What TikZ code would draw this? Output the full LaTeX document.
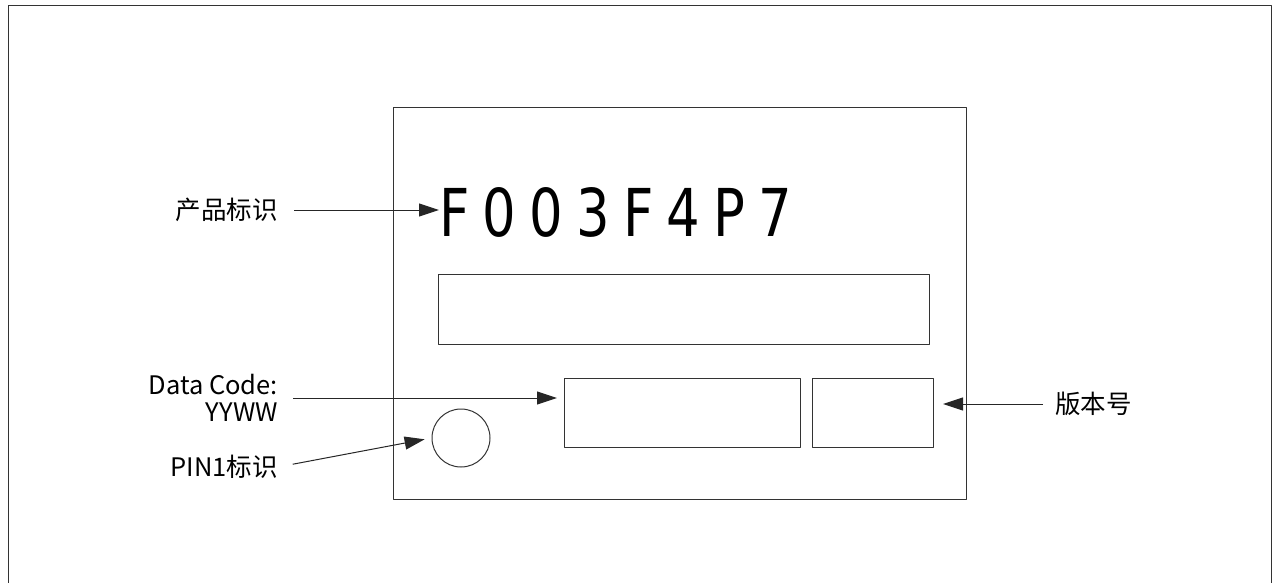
\documentclass[tikz,border=0pt]{standalone}
\usepackage{fontspec}
\setmainfont{Noto Sans CJK SC}
\newfontfamily\segfont[LetterSpace=25]{DejaVu Sans}
\usetikzlibrary{arrows.meta}
\tikzset{
  part/.style={draw=black!80, line width=1pt},
  lbl/.style={font=\fontsize{25.5}{27}\selectfont, inner sep=0pt},
  arr/.style={draw=black!85, line width=1pt, -{Triangle[length=20pt,width=13pt]}}
}
\begin{document}
\begin{tikzpicture}[x=1pt, y=-1pt, line join=round]
\useasboundingbox (0,0) rectangle (1277,582);
% khung ngoai
\draw[part] (8,590)--(8,5)--(1271,5)--(1271,590);
% chip
\draw[part] (393,107) rectangle (966,499);
\node[part, minimum width=491pt, minimum height=70pt, anchor=north west] (mark) at (438,274) {};
\node[part, minimum width=236pt, minimum height=69pt, anchor=north west] (dcode) at (564,378) {};
\node[part, minimum width=121pt, minimum height=69pt, anchor=north west] (ver) at (812,378) {};
\node[part, circle, minimum size=58pt, inner sep=0pt] (pin) at (461,438) {};
\node[inner sep=0pt, anchor=base west, xscale=.8, transform shape] (code) at (439,236) {\fontsize{66}{66}\segfont F003F4P7};
% nhan
\node[lbl, anchor=east] (lcode) at (278,210) {产品标识};
\node[lbl, anchor=east, align=right] (ldate) at (278,398) {Data Code:\\YYWW};
\node[lbl, anchor=east] (lpin) at (278,467) {PIN1标识};
\node[lbl, anchor=west] (lver) at (1055,404) {版本号};
% mui ten
\draw[arr, shorten <=16pt] (lcode.east) -- (code.west |- lcode.east);
\draw[arr, shorten <=15pt, shorten >=7pt] (ldate.east) -- (ldate.east -| dcode.west);
\draw[arr, shorten <=15pt, shorten >=7pt] (lpin.east) -- (pin.west);
\draw[arr, shorten <=12pt, shorten >=9pt] (lver.west) -- (ver.east |- lver.west);
\end{tikzpicture}
\end{document}
